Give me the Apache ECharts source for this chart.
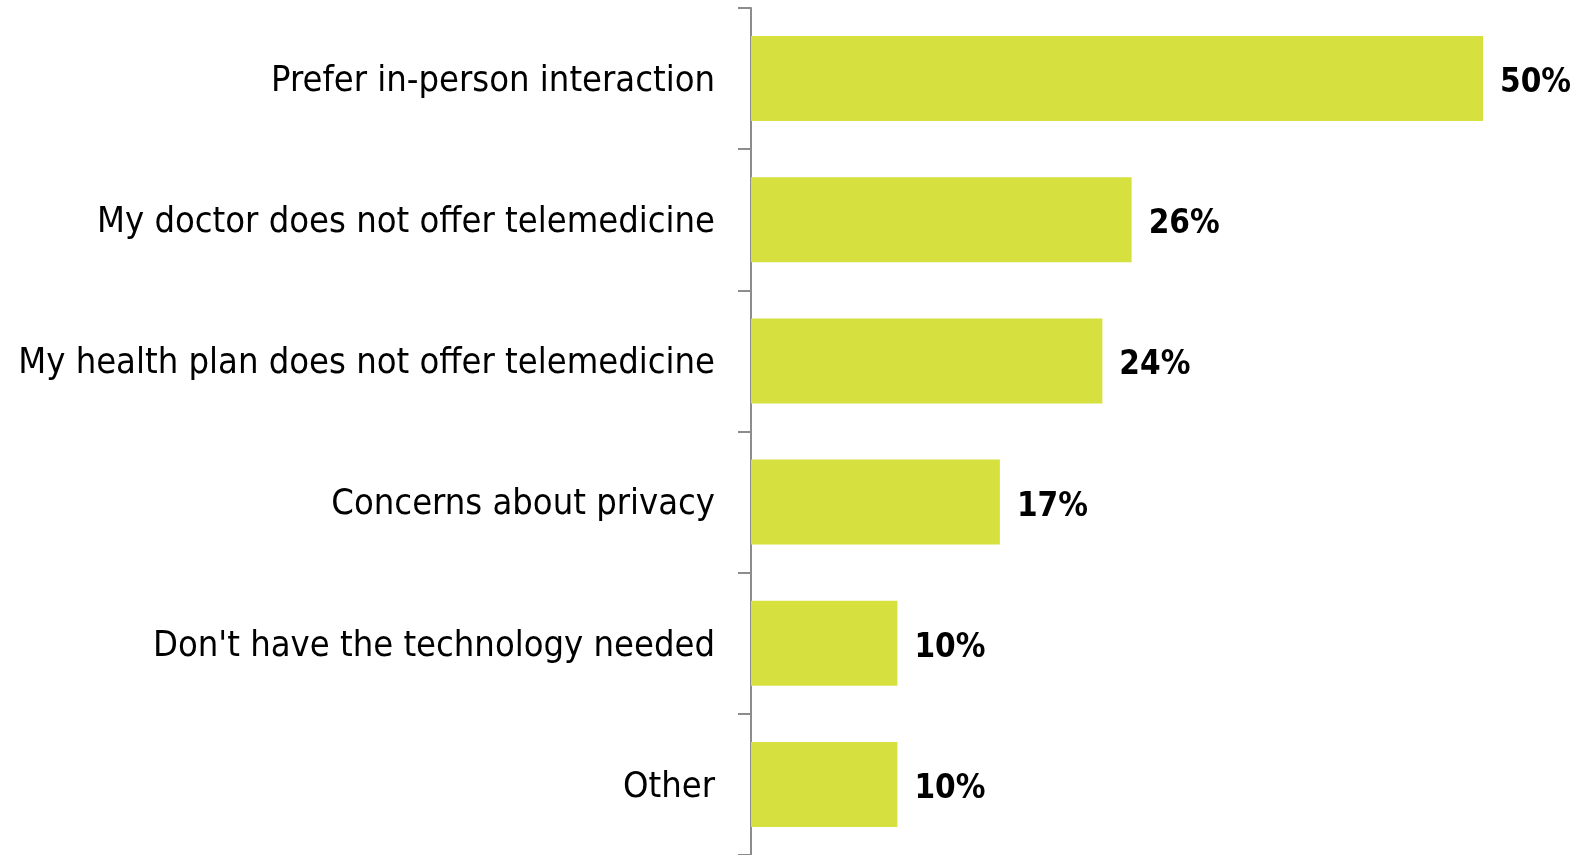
<!DOCTYPE html>
<html><head><meta charset="utf-8">
<script src="https://cdn.jsdelivr.net/npm/echarts@6/dist/echarts.min.js"></script>
<style>html,body{margin:0;padding:0;background:#fff}#c{width:1585px;height:855px}</style>
</head><body><div id="c"></div>
<script>
const categories = ["Prefer in-person interaction","My doctor does not offer telemedicine","My health plan does not offer telemedicine","Concerns about privacy","Don't have the technology needed","Other"];
const values = [50, 26, 24, 17, 10, 10];
const chart = echarts.init(document.getElementById('c'));
chart.setOption({
  animation:false,
  grid:{left:751, right:102, top:8, bottom:-2, containLabel:false},
  xAxis:{type:'value', min:0, max:50, show:false},
  yAxis:{type:'category', inverse:true, data:categories,
    axisLine:{lineStyle:{color:'#8c8c8c', width:2}},
    axisTick:{show:true, length:13, lineStyle:{color:'#8c8c8c', width:2}},
    axisLabel:{margin:36, formatter:v => '{a|' + v + '}',
      rich:{a:{color:'#000', fontFamily:'DejaVu Sans Condensed', fontSize:36, padding:[6,0,0,0]}}}},
  series:[{type:'bar', data:values, barWidth:85, itemStyle:{color:'#d6e03f'},
    label:{show:true, position:'right', distance:17, offset:[0,5], formatter:'{c}%', color:'#000', fontWeight:'bold', fontFamily:'DejaVu Sans Condensed', fontSize:33}}]
});
</script></body></html>
